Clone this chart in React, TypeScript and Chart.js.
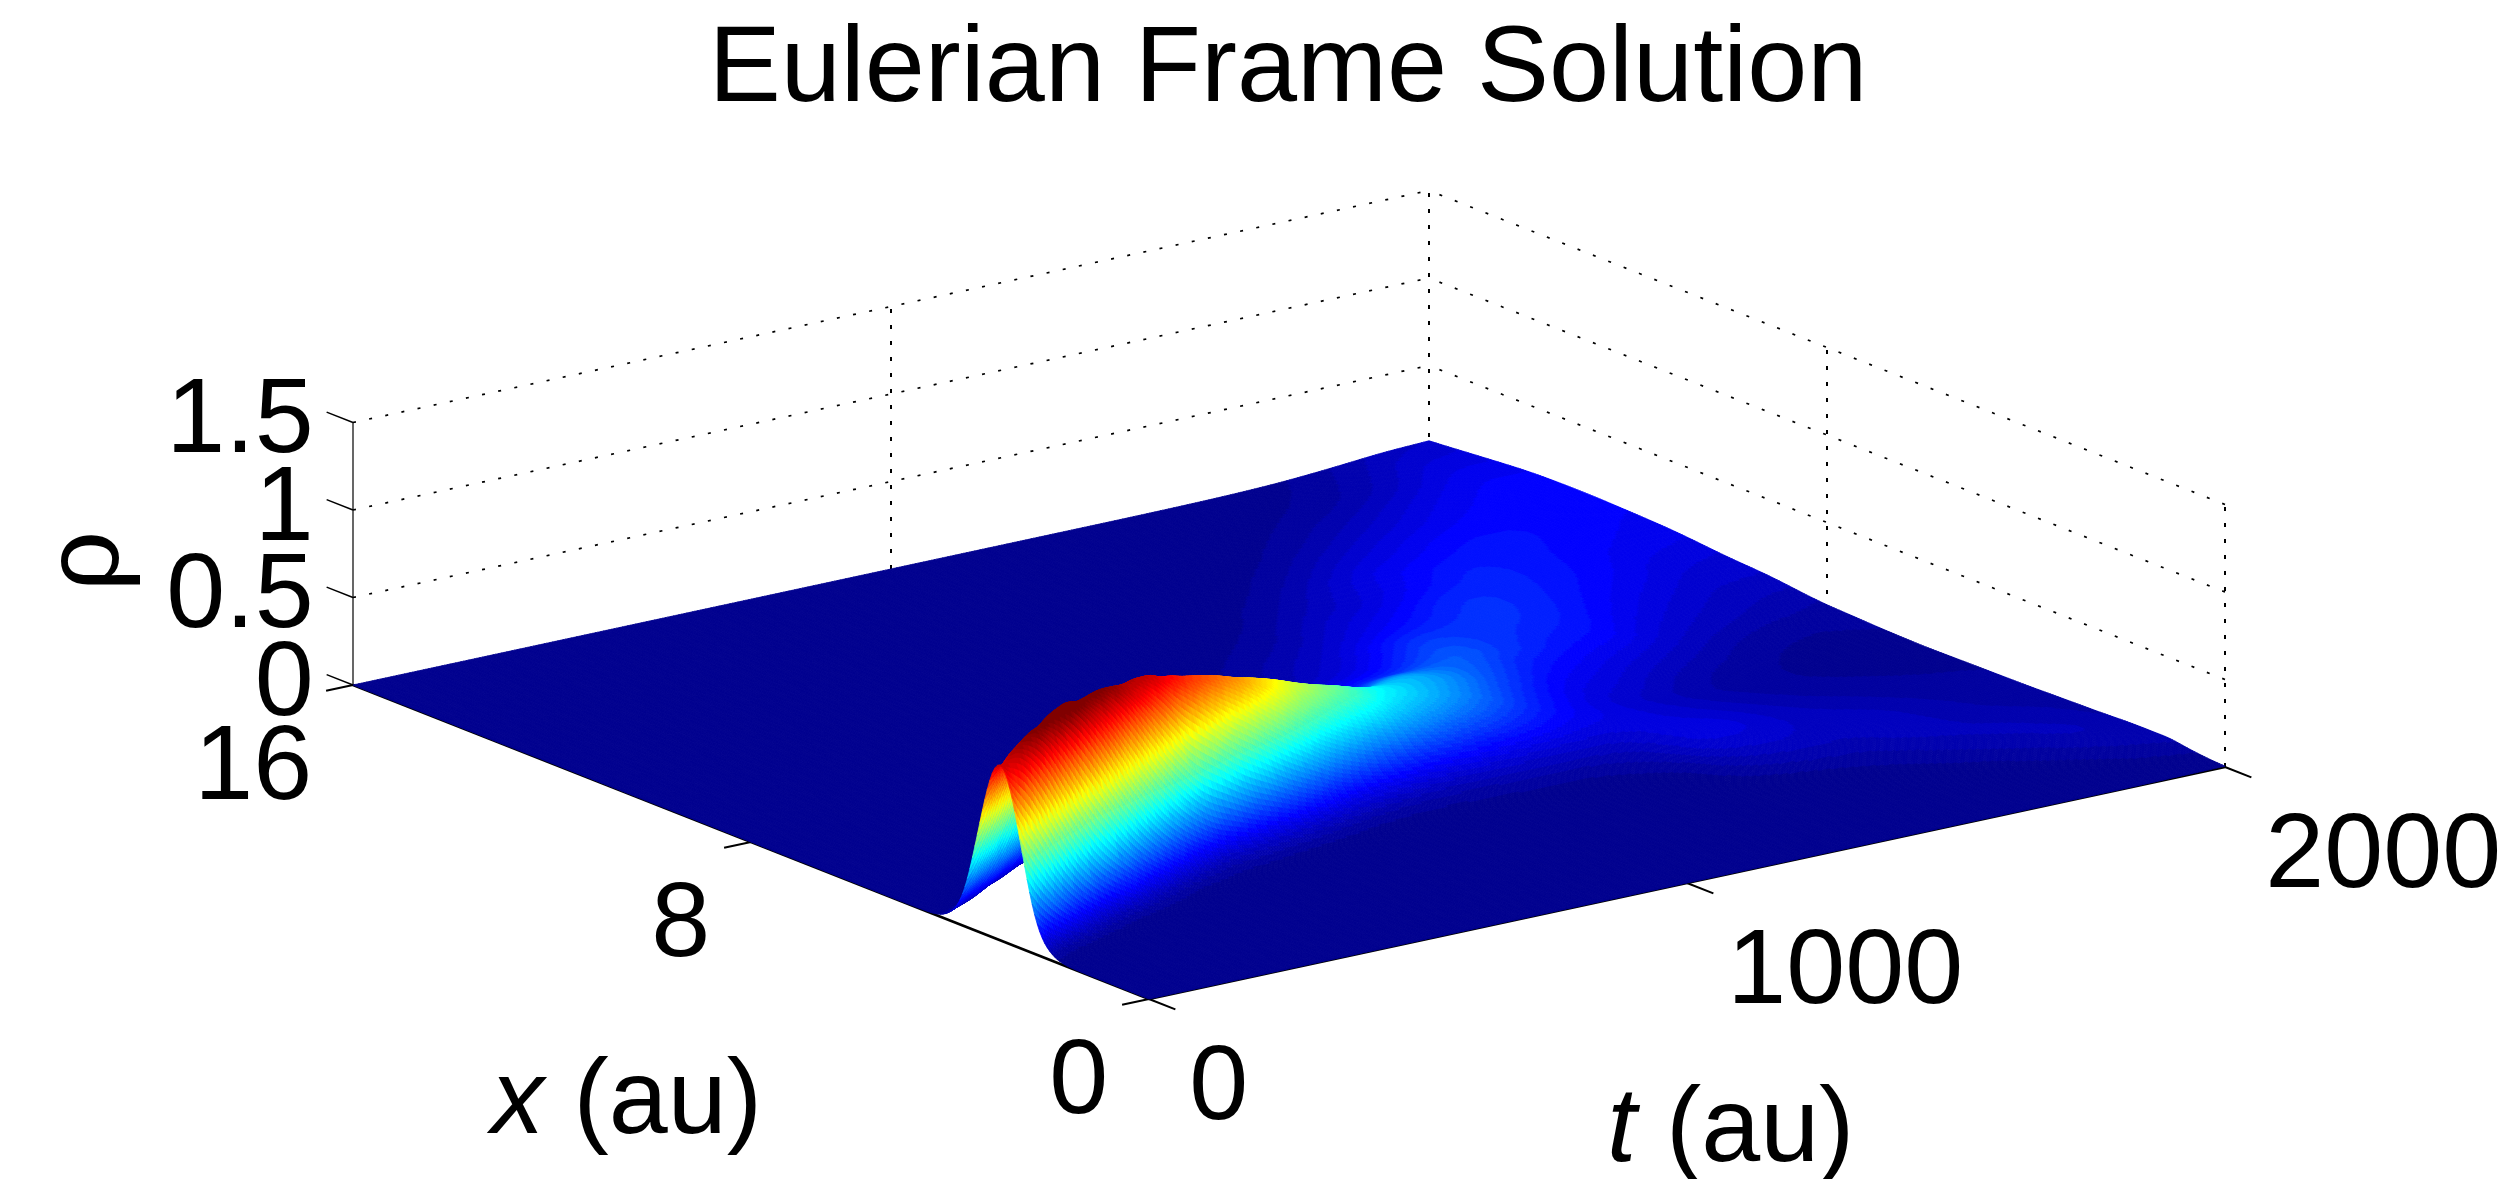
import React, { useEffect, useRef } from "react";
import { Chart, registerables } from "chart.js";

Chart.register(...registerables);

const titleText = "Eulerian Frame Solution";
const tTicks = [0, 1000, 2000];
const xTicks = [0, 8, 16];
const rhoTicks = [0, 0.5, 1, 1.5];
const tTickLabels = ["0", "1000", "2000"];
const xTickLabels = ["0", "8", "16"];
const rhoTickLabels = ["0", "0.5", "1", "1.5"];

const xGrid = [0, 1, 1.5, 2, 2.5, 3, 3.5, 4, 4.5, 5, 5.5, 6, 6.5, 7, 7.5, 8, 9, 10, 11, 12, 13, 14, 15, 16];
const tGrid = [0, 50, 100, 150, 200, 250, 300, 350, 400, 450, 500, 550, 600, 650, 700, 750, 800, 900, 1000, 1100, 1200, 1300, 1400, 1500, 1600, 1700, 1800, 1900, 2000];

const rhoT0000 = [0, 0, 0.001, 0.05, 0.48, 1.0, 0.48, 0.05, 0.001, 0, 0, 0, 0, 0, 0, 0, 0, 0, 0, 0, 0, 0, 0, 0];
const rhoT0050 = [0, 0, 0, 0.014, 0.24, 0.9, 0.82, 0.17, 0.008, 0, 0, 0, 0, 0, 0, 0, 0, 0, 0, 0, 0, 0, 0, 0];
const rhoT0100 = [0, 0, 0, 0.005, 0.104, 0.634, 1.06, 0.435, 0.04, 0.001, 0, 0, 0, 0, 0, 0, 0, 0, 0, 0, 0, 0, 0, 0];
const rhoT0150 = [0, 0, 0, 0.001, 0.04, 0.365, 1.01, 0.81, 0.15, 0.007, 0, 0, 0, 0, 0, 0, 0, 0, 0, 0, 0, 0, 0, 0];
const rhoT0200 = [0, 0, 0, 0, 0.015, 0.19, 0.78, 1.07, 0.4, 0.035, 0.001, 0, 0, 0, 0, 0, 0, 0, 0, 0, 0, 0, 0, 0];
const rhoT0250 = [0, 0, 0, 0, 0.006, 0.097, 0.53, 1.07, 0.7, 0.115, 0.005, 0, 0, 0, 0, 0, 0, 0, 0, 0, 0, 0, 0, 0];
const rhoT0300 = [0, 0, 0, 0, 0.002, 0.042, 0.31, 0.9, 0.96, 0.285, 0.022, 0.001, 0, 0, 0, 0, 0, 0, 0, 0, 0, 0, 0, 0];
const rhoT0350 = [0, 0, 0, 0, 0, 0.017, 0.164, 0.648, 1.05, 0.57, 0.083, 0.003, 0, 0, 0, 0, 0, 0, 0, 0, 0, 0, 0, 0];
const rhoT0400 = [0, 0, 0, 0, 0, 0.006, 0.08, 0.42, 0.94, 0.834, 0.212, 0.015, 0, 0, 0, 0, 0, 0, 0, 0, 0, 0, 0, 0];
const rhoT0450 = [0, 0, 0, 0, 0, 0.003, 0.04, 0.256, 0.747, 0.97, 0.43, 0.055, 0.002, 0, 0, 0, 0, 0, 0, 0, 0, 0, 0, 0];
const rhoT0500 = [0, 0, 0, 0, 0, 0.001, 0.021, 0.158, 0.556, 0.936, 0.65, 0.14, 0.009, 0.001, 0, 0, 0, 0, 0, 0, 0, 0, 0, 0];
const rhoT0550 = [0, 0, 0, 0, 0, 0, 0.015, 0.113, 0.438, 0.84, 0.75, 0.227, 0.022, 0.001, 0, 0, 0, 0, 0, 0, 0, 0, 0, 0];
const rhoT0600 = [0, 0, 0, 0, 0, 0, 0.01, 0.079, 0.33, 0.72, 0.8, 0.335, 0.047, 0.003, 0, 0, 0, 0, 0, 0, 0, 0, 0, 0];
const rhoT0650 = [0, 0, 0, 0, 0, 0, 0.007, 0.057, 0.254, 0.61, 0.79, 0.44, 0.087, 0.006, 0.001, 0, 0, 0, 0, 0, 0, 0, 0, 0];
const rhoT0700 = [0, 0, 0, 0, 0, 0, 0.005, 0.039, 0.184, 0.49, 0.74, 0.55, 0.15, 0.015, 0.002, 0, 0, 0, 0, 0, 0, 0, 0, 0];
const rhoT0750 = [0, 0, 0, 0, 0, 0, 0.003, 0.027, 0.134, 0.385, 0.65, 0.6, 0.225, 0.033, 0.004, 0.001, 0, 0, 0, 0, 0, 0, 0, 0];
const rhoT0800 = [0, 0, 0, 0, 0, 0, 0.002, 0.018, 0.093, 0.29, 0.54, 0.6, 0.31, 0.07, 0.009, 0.002, 0.001, 0, 0, 0, 0, 0, 0, 0];
const rhoT0900 = [0, 0, 0, 0, 0, 0, 0.003, 0.012, 0.058, 0.184, 0.374, 0.51, 0.4, 0.15, 0.03, 0.008, 0.003, 0.002, 0.001, 0, 0, 0, 0, 0];
const rhoT1000 = [0, 0, 0, 0, 0, 0, 0.002, 0.012, 0.045, 0.13, 0.27, 0.38, 0.385, 0.245, 0.105, 0.04, 0.015, 0.008, 0.002, 0, 0, 0, 0, 0];
const rhoT1100 = [0, 0, 0, 0, 0, 0, 0.004, 0.015, 0.045, 0.11, 0.2, 0.29, 0.33, 0.31, 0.22, 0.13, 0.05, 0.025, 0.008, 0.002, 0, 0, 0, 0];
const rhoT1200 = [0, 0, 0, 0, 0, 0.001, 0.005, 0.016, 0.045, 0.095, 0.155, 0.21, 0.25, 0.27, 0.24, 0.175, 0.09, 0.05, 0.02, 0.006, 0.001, 0, 0, 0];
const rhoT1300 = [0, 0, 0, 0, 0, 0.004, 0.012, 0.03, 0.055, 0.085, 0.115, 0.14, 0.165, 0.195, 0.215, 0.215, 0.16, 0.09, 0.05, 0.02, 0.005, 0.001, 0, 0];
const rhoT1400 = [0, 0, 0, 0.001, 0.005, 0.02, 0.045, 0.075, 0.09, 0.09, 0.09, 0.09, 0.105, 0.13, 0.155, 0.18, 0.175, 0.13, 0.08, 0.05, 0.018, 0.004, 0.001, 0];
const rhoT1500 = [0, 0, 0, 0.004, 0.012, 0.035, 0.06, 0.08, 0.085, 0.075, 0.065, 0.06, 0.075, 0.095, 0.12, 0.145, 0.172, 0.165, 0.12, 0.09, 0.045, 0.015, 0.004, 0.001];
const rhoT1600 = [0, 0, 0.003, 0.01, 0.022, 0.04, 0.055, 0.062, 0.06, 0.052, 0.042, 0.035, 0.045, 0.065, 0.09, 0.12, 0.15, 0.16, 0.15, 0.115, 0.075, 0.035, 0.012, 0.004];
const rhoT1700 = [0, 0.002, 0.008, 0.022, 0.04, 0.055, 0.06, 0.055, 0.045, 0.035, 0.027, 0.022, 0.025, 0.04, 0.06, 0.08, 0.115, 0.14, 0.145, 0.135, 0.1, 0.06, 0.025, 0.012];
const rhoT1800 = [0, 0.008, 0.022, 0.04, 0.052, 0.05, 0.045, 0.04, 0.032, 0.025, 0.018, 0.014, 0.015, 0.02, 0.035, 0.055, 0.085, 0.115, 0.13, 0.135, 0.12, 0.09, 0.05, 0.03];
const rhoT1900 = [0.002, 0.022, 0.04, 0.052, 0.048, 0.04, 0.032, 0.027, 0.022, 0.018, 0.014, 0.012, 0.012, 0.015, 0.022, 0.04, 0.065, 0.09, 0.115, 0.125, 0.128, 0.115, 0.085, 0.055];
const rhoT2000 = [0.005, 0.035, 0.04, 0.038, 0.032, 0.028, 0.024, 0.02, 0.018, 0.016, 0.014, 0.012, 0.014, 0.018, 0.024, 0.03, 0.06, 0.08, 0.105, 0.118, 0.124, 0.118, 0.095, 0.07];

const rhoRows = [rhoT0000, rhoT0050, rhoT0100, rhoT0150, rhoT0200, rhoT0250, rhoT0300, rhoT0350, rhoT0400, rhoT0450, rhoT0500, rhoT0550, rhoT0600, rhoT0650, rhoT0700, rhoT0750, rhoT0800, rhoT0900, rhoT1000, rhoT1100, rhoT1200, rhoT1300, rhoT1400, rhoT1500, rhoT1600, rhoT1700, rhoT1800, rhoT1900, rhoT2000];

// colour limit of the surface
const rhoColourMax = 1.08;

// orthographic view of the 3-D box, expressed in the chart's own scale units
const view = { ox: 1149, oy: 999, tx: 0.538, ty: -0.116, xx: -49.75, xy: -19.625, rz: -175 };
const project = (t: number, x: number, r: number) => ({
  x: view.ox + view.tx * t + view.xx * x,
  y: view.oy + view.ty * t + view.xy * x + view.rz * r,
});

const layoutLeft = 72;
const titleTopPad = 17;
const titleFontPx = 108;
const labelFontPx = 106;
const family = '"Liberation Sans", Arial, sans-serif';
const logFloor = 0.002;

// Smooth display curve through hand-read samples (only used for shading between grid nodes).
function hermite(xs: number[], ys: number[], q: number) {
  let i = 0;
  while (i < xs.length - 2 && q > xs[i + 1]) i++;
  const h = xs[i + 1] - xs[i];
  const s = (q - xs[i]) / h;
  const m0 = i > 0 ? (ys[i + 1] - ys[i - 1]) / (xs[i + 1] - xs[i - 1]) : (ys[i + 1] - ys[i]) / h;
  const m1 = i < xs.length - 2 ? (ys[i + 2] - ys[i]) / (xs[i + 2] - xs[i]) : (ys[i + 1] - ys[i]) / h;
  const s2 = s * s;
  const s3 = s2 * s;
  return (2 * s3 - 3 * s2 + 1) * ys[i] + (s3 - 2 * s2 + s) * h * m0 + (-2 * s3 + 3 * s2) * ys[i + 1] + (s3 - s2) * h * m1;
}

function jetColour(v: number) {
  const idx = Math.max(0, Math.min(63, Math.floor(v * 64)));
  const u = (idx + 1) / 64;
  const c = (k: number) => Math.round(255 * Math.max(0, Math.min(1, 1.5 - Math.abs(4 * u - k))));
  return `rgb(${c(3)},${c(2)},${c(1)})`;
}

const tSteps = 400;
const xSteps = 320;

function buildMesh() {
  const pts: { x: number; y: number }[] = [];
  const vals: number[] = [];
  const logRows = rhoRows.map((r) => r.map((v) => Math.log(v + logFloor)));
  const logCols = xGrid.map((_, j) => logRows.map((r) => r[j]));
  for (let i = 0; i <= tSteps; i++) {
    const t = (2000 * i) / tSteps;
    const col = logCols.map((c) => hermite(tGrid, c, t));
    for (let j = 0; j <= xSteps; j++) {
      const x = (16 * j) / xSteps;
      const r = Math.max(0, Math.exp(hermite(xGrid, col, x)) - logFloor);
      pts.push(project(t, x, r));
      vals.push(r);
    }
  }
  return { pts, vals };
}

const line = (data: { x: number; y: number }[], width: number, dash: number[] = []) => ({
  type: "scatter" as const,
  data,
  showLine: true,
  borderColor: "#000",
  borderWidth: width,
  borderDash: dash,
  pointRadius: 0,
  fill: false,
});

const T = 2000;
const X = 16;
const R = 1.5;
const tickLenT = 50;
const tickLenX = 0.53;

export default function App() {
  const ref = useRef<HTMLCanvasElement>(null);
  useEffect(() => {
    document.body.style.margin = "0";
    document.body.style.overflow = "hidden";
    const { pts, vals } = buildMesh();
    const datasets: any[] = [];
    const dotted = [3, 13.5];
    const dashedV = [4, 12];
    // wall grid lines
    rhoTicks.filter((r) => r > 0).forEach((r) => {
      datasets.push(line([project(0, X, r), project(T, X, r)], 1.7, dotted));
      datasets.push(line([project(T, 0, r), project(T, X, r)], 1.7, dotted));
    });
    tTicks.filter((t) => t > 0).forEach((t) => datasets.push(line([project(t, X, 0), project(t, X, R)], 2, dashedV)));
    xTicks.filter((x) => x < X).forEach((x) => datasets.push(line([project(T, x, 0), project(T, x, R)], 2, dashedV)));
    // axes
    datasets.push(line([project(0, 0, 0), project(T, 0, 0)], 2.6));
    datasets.push(line([project(0, 0, 0), project(0, X, 0)], 2.6));
    datasets.push(line([project(0, X, 0), project(0, X, R)], 1.2));
    // ticks
    tTicks.forEach((t) => datasets.push(line([project(t, 0, 0), project(t, -tickLenX, 0)], 2)));
    xTicks.forEach((x) => datasets.push(line([project(0, x, 0), project(-tickLenT, x, 0)], 2)));
    rhoTicks.forEach((r) => datasets.push(line([project(0, X, r), project(0, X + tickLenX, r)], 1.5)));
    // surface mesh, its own dataset; the plugin paints the cells from the element positions
    const surfaceIndex = datasets.length;
    datasets.push({ type: "scatter", data: pts, showLine: false, pointRadius: 0 });

    const surfacePlugin = {
      id: "surface",
      afterDatasetsDraw(chart: any) {
        const ctx = chart.ctx;
        const el = chart.getDatasetMeta(surfaceIndex).data;
        const n = xSteps + 1;
        ctx.save();
        ctx.lineWidth = 0.8;
        for (let i = tSteps - 1; i >= 0; i--) {
          for (let j = xSteps - 1; j >= 0; j--) {
            const a = el[i * n + j];
            const b = el[i * n + j + 1];
            const c = el[(i + 1) * n + j + 1];
            const d = el[(i + 1) * n + j];
            const mean = (vals[i * n + j] + vals[i * n + j + 1] + vals[(i + 1) * n + j + 1] + vals[(i + 1) * n + j]) / 4;
            const colour = jetColour(mean / rhoColourMax);
            ctx.fillStyle = colour;
            ctx.strokeStyle = colour;
            ctx.beginPath();
            ctx.moveTo(a.x, a.y);
            ctx.lineTo(b.x, b.y);
            ctx.lineTo(c.x, c.y);
            ctx.lineTo(d.x, d.y);
            ctx.closePath();
            ctx.fill();
            ctx.stroke();
          }
        }
        ctx.restore();
      },
      afterDraw(chart: any) {
        const ctx = chart.ctx;
        const sx = chart.scales.x;
        const sy = chart.scales.y;
        const at = (p: { x: number; y: number }) => ({ x: sx.getPixelForValue(p.x), y: sy.getPixelForValue(p.y) });
        const digitMid = labelFontPx * 0.358;
        ctx.save();
        ctx.fillStyle = "#000";
        ctx.font = `${labelFontPx}px ${family}`;
        ctx.textBaseline = "alphabetic";
        ctx.textAlign = "right";
        rhoTicks.forEach((r, i) => {
          const p = at(project(0, X + tickLenX, r));
          ctx.fillText(rhoTickLabels[i], p.x - 13, p.y + 2 + digitMid);
        });
        xTicks.forEach((x, i) => {
          const p = at(project(-tickLenT, x, 0));
          ctx.fillText(xTickLabels[i], p.x - 14, p.y + 70 + digitMid);
        });
        ctx.textAlign = "left";
        tTicks.forEach((t, i) => {
          const p = at(project(t, -tickLenX, 0));
          ctx.fillText(tTickLabels[i], p.x + 14, p.y + 72 + digitMid);
        });
        // axis titles
        const axisTitle = (sym: string, rest: string, left: number, base: number) => {
          ctx.font = `italic ${labelFontPx}px ${family}`;
          ctx.fillText(sym, left, base);
          const w = ctx.measureText(sym).width;
          ctx.font = `${labelFontPx}px ${family}`;
          ctx.fillText(rest, left + w, base);
        };
        axisTitle("x", " (au)", 491, 1133);
        axisTitle("t", " (au)", 1607, 1161);
        ctx.font = `${labelFontPx}px ${family}`;
        ctx.textAlign = "center";
        ctx.translate(118, 561);
        ctx.rotate(-Math.PI / 2);
        ctx.fillText("ρ", 0, 0);
        ctx.restore();
      },
    };

    const chart = new Chart(ref.current as HTMLCanvasElement, {
      type: "scatter",
      data: { datasets },
      plugins: [surfacePlugin],
      options: {
        animation: false,
        responsive: false,
        events: [],
        layout: { padding: { left: layoutLeft, right: 0, top: 0, bottom: 0 } },
        plugins: {
          legend: { display: false },
          tooltip: { enabled: false },
          title: {
            display: true,
            text: titleText,
            color: "#000",
            font: { family, size: titleFontPx, weight: "normal", lineHeight: 1 },
            padding: { top: titleTopPad, bottom: 0 },
          },
        },
        scales: {
          x: { type: "linear", display: false, min: layoutLeft, max: 2504 },
          y: { type: "linear", display: false, min: titleTopPad + titleFontPx, max: 1179, reverse: true },
        },
      },
    } as any);
    return () => chart.destroy();
  }, []);
  return <canvas ref={ref} width={2504} height={1179} style={{ display: "block" }} />;
}
